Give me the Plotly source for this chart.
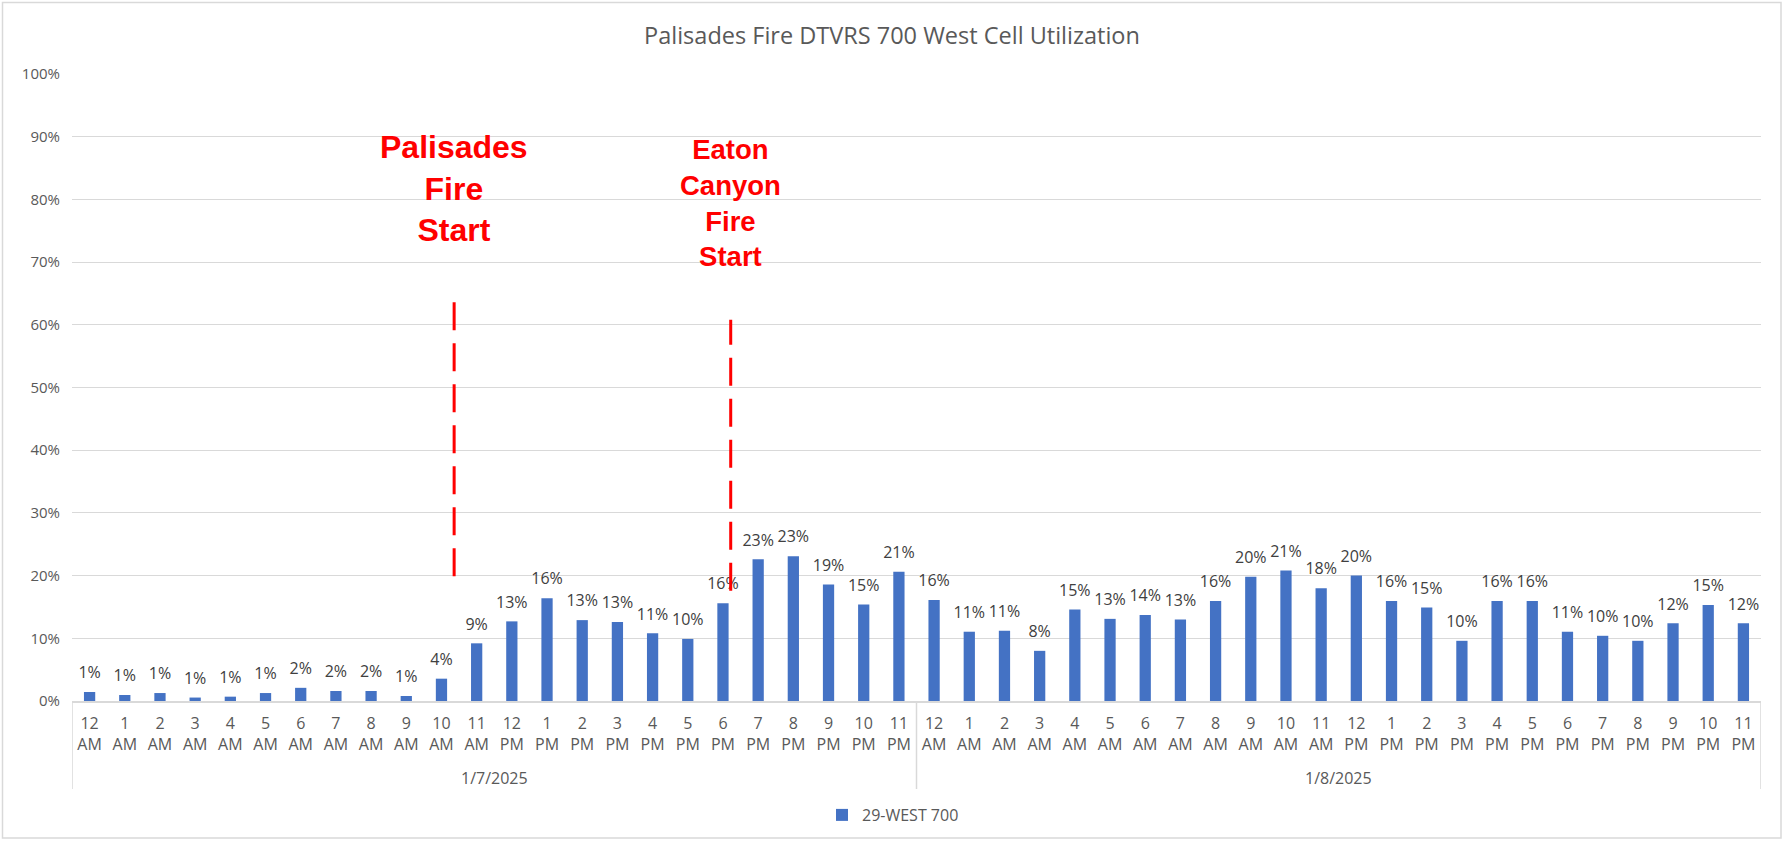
import plotly.graph_objects as go

title = "Palisades Fire DTVRS 700 West Cell Utilization"
series_name = "29-WEST 700"
dates = ["1/7/2025", "1/8/2025"]
hours = ["12 AM", "1 AM", "2 AM", "3 AM", "4 AM", "5 AM", "6 AM", "7 AM", "8 AM", "9 AM", "10 AM", "11 AM",
         "12 PM", "1 PM", "2 PM", "3 PM", "4 PM", "5 PM", "6 PM", "7 PM", "8 PM", "9 PM", "10 PM", "11 PM"]
day1 = [1.44, 0.96, 1.27, 0.55, 0.69, 1.27, 2.1, 1.6, 1.6, 0.8, 3.56, 9.2,
        12.7, 16.4, 12.9, 12.6, 10.8, 9.9, 15.6, 22.6, 23.1, 18.6, 15.4, 20.6]
day2 = [16.1, 11.05, 11.2, 8.0, 14.6, 13.1, 13.7, 13.0, 15.95, 19.8, 20.8, 18.0,
        20.0, 15.95, 14.9, 9.6, 15.95, 15.95, 11.05, 10.4, 9.6, 12.4, 15.3, 12.4]

event_labels = ["Palisades<br>Fire<br>Start", "Eaton<br>Canyon<br>Fire<br>Start"]
event_x = [10.36, 18.22]          # position on the hourly category index
event_top = [0.64, 0.608]
event_bottom = [0.199, 0.176]
event_text_y = [0.818, 0.795]
event_font = [32, 27.5]

n_hours = len(hours)
tick_text = [h.replace(" ", "<br>") for _ in dates for h in hours]
x_idx = list(range(len(tick_text)))
values = [v / 100 for v in day1 + day2]

W, H = 1783, 841
L, R, T, B = 72, 22, 74, 140
pw, ph = W - L - R, H - T - B
GRAY = "#D9D9D9"
TXT = "#595959"
FONT = "Open Sans"

def px2x(p): return (p - L) / pw
def py2y(p): return (H - B - p) / ph

fig = go.Figure()
fig.add_trace(go.Bar(
    x=x_idx, y=values, name=series_name,
    marker=dict(color="#4472C4", line=dict(width=0)),
    width=0.32, showlegend=True, hoverinfo="y",
))
# data labels above bars
fig.add_trace(go.Scatter(
    x=x_idx, y=values, mode="markers+text",
    marker=dict(size=14, opacity=0, color="#4472C4"),
    texttemplate="%{y:.0%}", textposition="top center",
    textfont=dict(size=16, color="#404040", family=FONT),
    showlegend=False, hoverinfo="skip", cliponaxis=False,
))

for lab, xv, y0, y1, ty, fs in zip(event_labels, event_x, event_top, event_bottom, event_text_y, event_font):
    fig.add_shape(type="line", xref="x", yref="y", x0=xv, x1=xv, y0=y1, y1=y0,
                  line=dict(color="#FF0000", width=3, dash="28px,13px"))
    fig.add_annotation(x=xv, y=ty, xref="x", yref="y", text=f"<b>{lab}</b>", showarrow=False,
                       font=dict(size=fs, color="#FF0000", family="Liberation Sans"),
                       xanchor="center", yanchor="middle")

# day group dividers and date labels
for k in range(len(dates) + 1):
    fig.add_shape(type="line", xref="x", yref="paper", x0=k * n_hours - 0.5, x1=k * n_hours - 0.5,
                  y0=0, y1=py2y(789), line=dict(color=GRAY, width=1.5))
for k, d in enumerate(dates):
    fig.add_annotation(x=k * n_hours + (n_hours - 1) / 2, y=py2y(778), xref="x", yref="paper",
                       text=d, showarrow=False, xanchor="center", yanchor="middle",
                       font=dict(size=16, color=TXT, family=FONT))

# outer chart border
fig.add_shape(type="rect", xref="paper", yref="paper",
              x0=px2x(2.5), x1=px2x(1781), y0=py2y(2.5), y1=py2y(838),
              line=dict(color=GRAY, width=1.5), layer="below")

fig.update_layout(
    width=W, height=H,
    margin=dict(l=L, r=R, t=T, b=B, autoexpand=False),
    paper_bgcolor="white", plot_bgcolor="white",
    title=dict(text=title, x=px2x(892), xref="paper", xanchor="center", y=1 - 36 / H, yanchor="middle",
               font=dict(size=23.5, color=TXT, family=FONT)),
    font=dict(family=FONT, color=TXT, size=16),
    legend=dict(orientation="h", x=px2x(893), y=py2y(815), xanchor="center", yanchor="middle",
                font=dict(size=16, color=TXT, family=FONT), itemwidth=30),
    yaxis=dict(range=[0, 1], dtick=0.1, tickformat=".0%", gridcolor=GRAY, gridwidth=1.2,
               showline=False, zeroline=False, ticks="", ticklabelstandoff=11,
               tickfont=dict(size=15, color=TXT, family=FONT), fixedrange=True),
    xaxis=dict(range=[-0.5, len(x_idx) - 0.5], tickmode="array", tickvals=x_idx, ticktext=tick_text,
               showline=True, linecolor=GRAY, linewidth=1.5, showgrid=False, zeroline=False, ticks="",
               ticklabelstandoff=7,
               tickfont=dict(size=16, color=TXT, family=FONT), tickangle=0, fixedrange=True),
)

fig.write_html("out.html", config={"displayModeBar": False},
               post_script="document.body.style.margin='0';document.body.style.overflow='hidden';")
